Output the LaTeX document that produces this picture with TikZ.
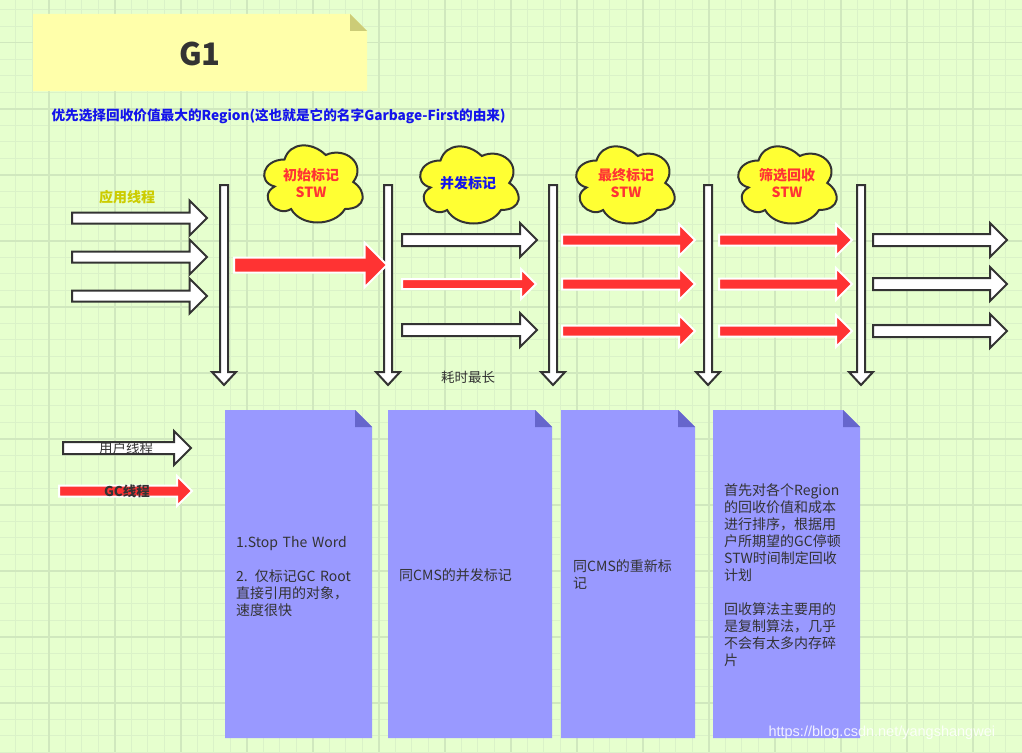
\documentclass[tikz,border=0pt]{standalone}
\usepackage{fontspec}
\setmainfont{Noto Sans CJK SC}
\newfontfamily\urlfont{Liberation Sans}

\definecolor{paper}{RGB}{230,255,206}
\definecolor{gridminor}{RGB}{218,242,200}
\definecolor{gridmajor}{RGB}{208,232,190}
\definecolor{ink}{RGB}{51,51,51}
\definecolor{gcred}{RGB}{255,51,51}
\definecolor{stickyyellow}{RGB}{255,255,170}
\definecolor{stickyfold}{RGB}{204,204,119}
\definecolor{notefill}{RGB}{153,153,255}
\definecolor{notefold}{RGB}{102,102,204}
\definecolor{cloudyellow}{RGB}{255,255,51}
\definecolor{headblue}{RGB}{20,20,235}
\definecolor{appyellow}{RGB}{204,204,0}

\tikzset{
  userarrow/.style={draw=ink, fill=white, line width=2pt},
  gcarrow/.style={draw=white, fill=gcred, line width=2pt},
  cloudline/.style={draw=ink, fill=cloudyellow, line width=2pt},
  phasetext/.style={align=center, inner sep=0pt, font=\bfseries\fontsize{14}{17}\selectfont},
  notetext/.style={anchor=base west, inner sep=0pt, text width=140pt, align=left,
    text=ink, font=\fontsize{14}{17}\selectfont},
}

% block arrow pointing right: [style]{x1}{x2}{y}{shaft half}{head half}
\newcommand{\fatarrow}[6][userarrow]{%
  \draw[#1] (#2,#4-#5) -- (#3-#6,#4-#5) -- (#3-#6,#4-#6) -- (#3,#4)
    -- (#3-#6,#4+#6) -- (#3-#6,#4+#5) -- (#2,#4+#5) -- cycle;}
% time bar pointing down
\newcommand{\timebar}[1]{%
  \draw[userarrow] (#1-4,185) -- (#1+4,185) -- (#1+4,372) -- (#1+12,372)
    -- (#1,385) -- (#1-12,372) -- (#1-4,372) -- cycle;}
% sticky note with folded corner
\newcommand{\sticky}[6]{%
  \fill[#5] (#1,#2) -- (#3-17,#2) -- (#3,#2+17) -- (#3,#4) -- (#1,#4) -- cycle;
  \fill[#6] (#3-17,#2) -- (#3-17,#2+17) -- (#3,#2+17) -- cycle;}
% cloud in a 110x90 box, top left corner given
\newcommand{\puffcloud}[2]{%
  \begin{scope}[shift={(#1,#2)},x=110pt,y=-90pt]
    \draw[cloudline] (0.25,0.25) .. controls (0.05,0.25) and (0,0.5) .. (0.16,0.55)
      .. controls (0,0.66) and (0.18,0.9) .. (0.31,0.8)
      .. controls (0.4,1) and (0.7,1) .. (0.8,0.8)
      .. controls (1,0.8) and (1,0.6) .. (0.875,0.5)
      .. controls (1,0.3) and (0.8,0.1) .. (0.625,0.2)
      .. controls (0.5,0.05) and (0.3,0.05) .. (0.25,0.25) -- cycle;
  \end{scope}}

\begin{document}
\begin{tikzpicture}[x=1pt,y=-1pt]
    \useasboundingbox (0,0) rectangle (1022,752);
    \fill[paper] (0,0) rectangle (1022,752);
    % grid
    \foreach \k in {0,...,62}
        \draw[gridminor,line width=1.3pt] (-0.8+16.5*\k,0) -- (-0.8+16.5*\k,752);
    \foreach \k in {0,...,45}
        \draw[gridminor,line width=1.3pt] (0,9.7+16.5*\k) -- (1022,9.7+16.5*\k);
    \foreach \k in {0,...,15}
        \draw[gridmajor,line width=1.6pt] (48.7+66*\k,0) -- (48.7+66*\k,752);
    \foreach \k in {0,...,11}
        \draw[gridmajor,line width=1.6pt] (0,42.7+66*\k) -- (1022,42.7+66*\k);

    % title note
    \sticky{33}{14}{367}{91}{stickyyellow}{stickyfold}
    \node[text=ink,font=\bfseries\fontsize{31}{31}\selectfont] (title) at (200,54) {G1};
    \node[anchor=west,text=headblue,font=\bfseries\fontsize{13.65}{15}\selectfont] (motto) at (48,116)
        {优先选择回收价值最大的Region(这也就是它的名字Garbage-First的由来)};

    % time bars
    \foreach \x in {224,388,553,708,861} {\timebar{\x}}

    % application threads
    \node[text=appyellow,font=\bfseries\fontsize{14}{16}\selectfont] (apptext) at (127,197) {应用线程};
    \foreach \y in {218,257,296} {\fatarrow{72}{207}{\y}{5.5}{17.5}}
    \fatarrow[gcarrow]{234}{387}{265}{7.5}{22.5}
    \fatarrow{402}{537}{240}{6}{17}
    \fatarrow[gcarrow]{402}{536}{284}{5}{15}
    \fatarrow{402}{537}{330}{6}{17}
    \foreach \y in {240,284,331} {
        \fatarrow[gcarrow]{562}{695}{\y}{5.5}{16}
        \fatarrow[gcarrow]{719}{852}{\y}{5.5}{16}
        \fatarrow{873}{1007}{\y}{6}{17}
    }

    % phases
    \puffcloud{257}{137}
    \puffcloud{413}{138}
    \puffcloud{569}{138}
    \puffcloud{731}{138}
    \node[phasetext,text=gcred] (initmark) at (311,183.5) {初始标记\\STW};
    \node[phasetext,text=headblue] (concmark) at (468,183) {并发标记};
    \node[phasetext,text=gcred] (remark) at (626,183.5) {最终标记\\STW};
    \node[phasetext,text=gcred] (cleanup) at (787,183.5) {筛选回收\\STW};
    \node[text=ink,font=\fontsize{13.5}{16}\selectfont] (longest) at (468,377) {耗时最长};

    % legend
    \fatarrow{63}{191}{448}{6}{17}
    \node[text=ink,font=\fontsize{13.5}{16}\selectfont] (userlbl) at (126,448) {用户线程};
    \fatarrow[gcarrow]{59}{192}{491}{5.5}{15}
    \node[text=ink,font=\bfseries\fontsize{13.5}{16}\selectfont] (gclbl) at (127,491) {GC线程};

    % phase notes
    \sticky{225}{410}{372}{738}{notefill}{notefold}
    \sticky{388}{410}{552}{738}{notefill}{notefold}
    \sticky{561}{410}{695}{738}{notefill}{notefold}
    \sticky{713}{410}{860}{738}{notefill}{notefold}
    \node[notetext] (initnote) at (236,547)
        {1.Stop The Word\\[17pt]2. 仅标记GC Root\\直接引用的对象，\\速度很快};
    \node[notetext] (concnote) at (399,580) {同CMS的并发标记};
    \node[notetext] (renote) at (573,571) {同CMS的重新标\\记};
    \node[notetext] (cleannote) at (724,495)
        {首先对各个Region\\的回收价值和成本\\进行排序，根据用\\户所期望的GC停顿\\STW时间制定回收\\计划\\[17pt]回收算法主要用的\\是复制算法，几乎\\不会有太多内存碎\\片};

    \node[anchor=west,text=white,opacity=0.85,font=\urlfont\fontsize{14.5}{16}\selectfont] (watermark)
        at (765,733) {https://blog.csdn.net/yangshangwei};
\end{tikzpicture}
\end{document}
